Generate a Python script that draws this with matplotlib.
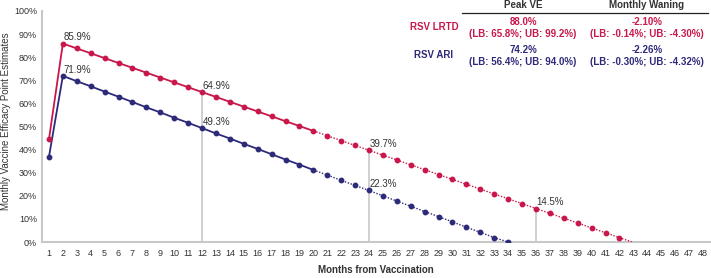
import numpy as np
import matplotlib
matplotlib.use("Agg")
import matplotlib.pyplot as plt

plt.rcParams['font.family'] = ['Liberation Sans', 'DejaVu Sans']

RED = '#C8174A'
BLUE = '#2E2A7A'
GRID = '#C8C8C8'

# RSV LRTD monthly VE (%), months 1..42, then zero crossing
lrtd_months = list(range(1, 43))
lrtd_ve = [44.5, 85.9, 83.8, 81.7, 79.6, 77.5, 75.4, 73.3, 71.2, 69.1,
           67.0, 64.9, 62.8, 60.7, 58.6, 56.5, 54.4, 52.3, 50.2, 48.1,
           46.0, 43.9, 41.8, 39.7, 37.6, 35.5, 33.4, 31.3, 29.2, 27.1,
           25.0, 22.9, 20.8, 18.7, 16.6, 14.5, 12.4, 10.3, 8.2, 6.1,
           4.0, 1.9]
lrtd_end = (42.9, 0.0)

# RSV ARI monthly VE (%), months 1..34
ari_months = list(range(1, 35))
ari_ve = [36.9, 71.9, 69.6, 67.4, 65.1, 62.9, 60.6, 58.3, 56.1, 53.8,
          51.6, 49.3, 47.0, 44.8, 42.5, 40.3, 38.0, 35.7, 33.5, 31.2,
          29.0, 26.7, 24.5, 22.3, 20.0, 17.7, 15.5, 13.2, 11.0, 8.7,
          6.4, 4.2, 1.9, 0.0]

solid_until = 20
annot_red = {2: '85.9%', 12: '64.9%', 24: '39.7%', 36: '14.5%'}
annot_blue = {2: '71.9%', 12: '49.3%', 24: '22.3%'}
vlines = {12: 64.9, 24: 39.7, 36: 14.5}

rows = ['RSV LRTD', 'RSV ARI']
row_colors = [RED, BLUE]
peak_ve = [['88.0%', '(LB: 65.8%; UB: 99.2%)'], ['74.2%', '(LB: 56.4%; UB: 94.0%)']]
waning = [['-2.10%', '(LB: -0.14%; UB: -4.30%)'], ['-2.26%', '(LB: -0.30%; UB: -4.32%)']]

fig = plt.figure(figsize=(7.11, 2.78), dpi=100)
ax = fig.add_axes([42 / 711, 36 / 278, 669 / 711, 231 / 278])

for x, top in vlines.items():
    ax.plot([x, x], [0, top], color=GRID, lw=1.2, zorder=1)


def draw_series(months, vals, color, end=None):
    m = np.array(months)
    v = np.array(vals)
    s = m <= solid_until
    ax.plot(m[s], v[s], color=color, lw=1.3, zorder=3)
    dm = list(m[m >= solid_until])
    dv = list(v[m >= solid_until])
    if end is not None:
        dm.append(end[0])
        dv.append(end[1])
    ax.plot(dm, dv, color=color, lw=1.0, ls=(0, (1, 1.2)), zorder=3)
    ax.plot(m, v, 'o', color=color, ms=3.2, zorder=4)


draw_series(lrtd_months, lrtd_ve, RED, lrtd_end)
draw_series(ari_months, ari_ve, BLUE)

for x, t in annot_red.items():
    y = lrtd_ve[x - 1]
    ax.text(x + 0.05, y + 0.6, t, fontsize=7, color='#333333', ha='left', va='bottom')
for x, t in annot_blue.items():
    y = ari_ve[x - 1]
    ax.text(x + 0.05, y + 0.6, t, fontsize=7, color='#333333', ha='left', va='bottom')

ax.set_xlim(0.5, 48.58)
ax.set_ylim(0, 100)
ax.set_xticks(range(1, 49))
ax.set_yticks(range(0, 101, 10))
ax.set_yticklabels([f'{v}%' for v in range(0, 101, 10)])
ax.tick_params(axis='both', length=0, labelsize=6.5, colors='#333333')
ax.tick_params(axis='x', pad=5)
for sp in ['top', 'right']:
    ax.spines[sp].set_visible(False)
for sp in ['left', 'bottom']:
    ax.spines[sp].set_color(GRID)
    ax.spines[sp].set_linewidth(1.5)

# axis titles placed by hand so they stay inside the small canvas
fig.text(6 / 711, 1 - 121 / 278, 'Monthly Vaccine Efficacy Point Estimates', fontsize=7,
         color='#333333', rotation=90, ha='center', va='center')
fig.text(376 / 711, 1 - 270 / 278, 'Months from Vaccination', fontsize=7, fontweight='bold',
         color='#333333', ha='center', va='center')

# summary table in the upper right
fig.text(523 / 711, 1 - 5.5 / 278, 'Peak VE', fontsize=7, fontweight='bold', color='#333333',
         ha='center', va='center')
fig.text(647 / 711, 1 - 5.5 / 278, 'Monthly Waning', fontsize=7, fontweight='bold', color='#333333',
         ha='center', va='center')
fig.add_artist(plt.Line2D([462 / 711, 708 / 711], [1 - 13 / 278, 1 - 13 / 278],
                          color='#222222', lw=0.9))
row_y = [22, 50]
for i, name in enumerate(rows):
    c = row_colors[i]
    y0 = row_y[i]
    fig.text(434 / 711, 1 - (y0 + 5) / 278, name, fontsize=7, fontweight='bold', color=c,
             ha='center', va='center')
    for j, line in enumerate(peak_ve[i]):
        fig.text(523 / 711, 1 - (y0 + 12 * j) / 278, line, fontsize=7, fontweight='bold',
                 color=c, ha='center', va='center')
    for j, line in enumerate(waning[i]):
        fig.text(647 / 711, 1 - (y0 + 12 * j) / 278, line, fontsize=7, fontweight='bold',
                 color=c, ha='center', va='center')

fig.savefig('out.png', dpi=100)
